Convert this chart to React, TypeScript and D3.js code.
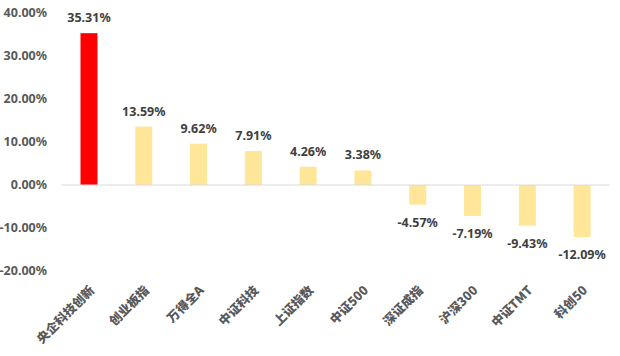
import React from "react";
import * as d3 from "d3";

const categories = ["央企科技创新", "创业板指", "万得全A", "中证科技", "上证指数", "中证500", "深证成指", "沪深300", "中证TMT", "科创50"];
const values = [35.31, 13.59, 9.62, 7.91, 4.26, 3.38, -4.57, -7.19, -9.43, -12.09];
const yTicks = [40, 30, 20, 10, 0, -10, -20];
const highlight = ["央企科技创新"];

const W = 620, H = 356;
const font = "'Noto Sans', 'Noto Sans CJK SC', sans-serif";
const cjkFont = "'Noto Sans CJK SC', 'Noto Sans', sans-serif";

export default function App() {
  const x = d3.scaleBand<string>().domain(categories).range([61.6, 609.5]).paddingInner(0.69).paddingOuter(0.345);
  const y = d3.scaleLinear().domain([-20, 40]).range([271, 13]);
  const fmt = (v: number) => v.toFixed(2) + "%";
  return (
    <svg width={W} height={H} style={{ position: "absolute", left: 0, top: 0, background: "#fff" }}>
      {yTicks.map((t) => (
        <text key={t} x={47} y={y(t)} dy="0.35em" textAnchor="end" fontFamily={font} fontWeight="bold" fontSize={12.5} fill="#595959">
          {fmt(t)}
        </text>
      ))}
      {categories.map((c, i) => {
        const v = values[i];
        const bx = x(c)!;
        const bw = x.bandwidth();
        const top = y(Math.max(0, v));
        const h = Math.abs(y(v) - y(0));
        const cx = bx + bw / 2;
        return (
          <g key={c}>
            <rect x={bx} y={top} width={bw} height={h} fill={highlight.includes(c) ? "#ff0000" : "#ffe699"} />
            <text x={cx} y={v >= 0 ? y(v) - 11 : y(v) + 22} textAnchor="middle" fontFamily={font} fontWeight="bold" fontSize={12.5} fill="#404040">
              {fmt(v)}
            </text>
            <text transform={`translate(${cx + 3},${288}) rotate(-45)`} textAnchor="end" dy="0.35em" fontFamily={cjkFont} fontWeight={900} fontSize={12.5} fill="#595959">
              {c}
            </text>
          </g>
        );
      })}
      <line x1={61.6} x2={609.5} y1={y(0)} y2={y(0)} stroke="#d9d9d9" strokeWidth={1} />
    </svg>
  );
}
